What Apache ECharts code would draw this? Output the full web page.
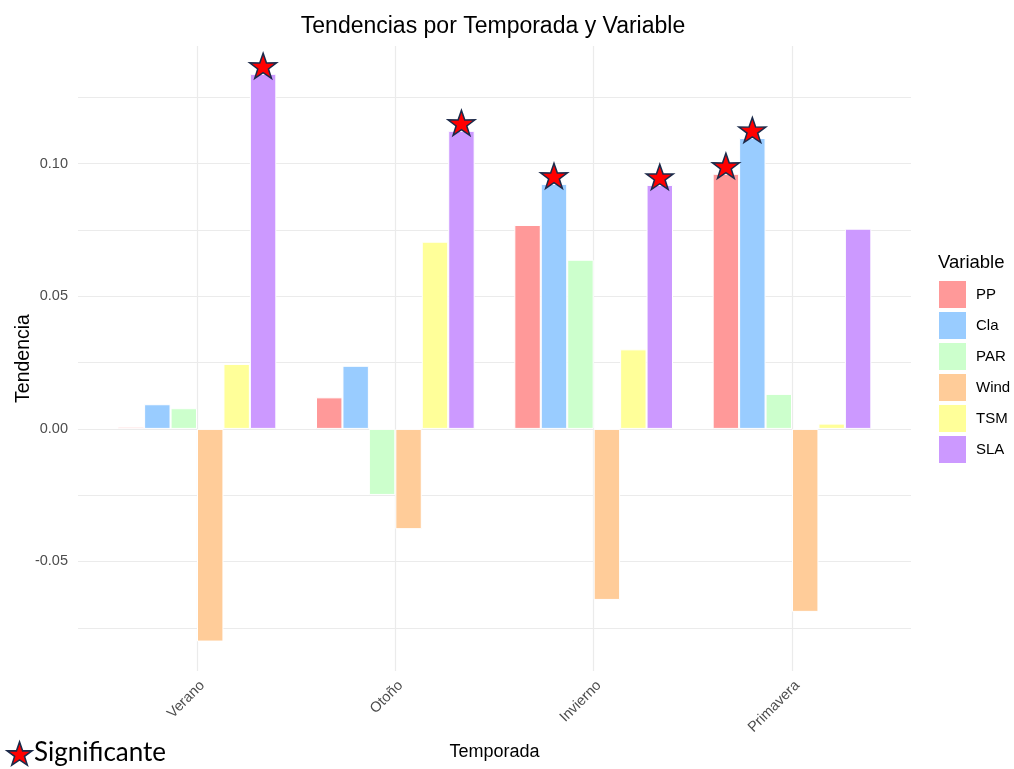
<!DOCTYPE html>
<html>
<head>
<meta charset="utf-8">
<script src="https://cdn.jsdelivr.net/npm/echarts@6/dist/echarts.min.js"></script>
<style>
html,body{margin:0;padding:0;background:#fff;}
#chart{width:1014px;height:769px;}
</style>
</head>
<body>
<div id="chart"></div>
<script>
const seasons = ['Verano', 'Otoño', 'Invierno', 'Primavera'];
const variables = ['PP', 'Cla', 'PAR', 'Wind', 'TSM', 'SLA'];
const colors = ['#FF9999', '#99CCFF', '#CCFFCC', '#FFCC99', '#FFFF99', '#CC99FF'];
const PP   = [0.0008, 0.0119, 0.0769, 0.0962];
const Cla  = [0.0093, 0.0238, 0.0924, 0.1097];
const PAR  = [0.0078, -0.0249, 0.0638, 0.0132];
const Wind = [-0.0802, -0.0378, -0.0645, -0.0690];
const TSM  = [0.0245, 0.0706, 0.0300, 0.0020];
const SLA  = [0.1339, 0.1124, 0.0920, 0.0755];
// significant: [season index, variable index]
const significant = [[0, 5], [1, 5], [2, 1], [2, 5], [3, 0], [3, 1]];
const yLabelTicks = [-0.05, 0, 0.05, 0.10];
const yGridTicks = [-0.075, -0.05, -0.025, 0, 0.025, 0.05, 0.075, 0.10, 0.125];

const seriesValues = [PP, Cla, PAR, Wind, TSM, SLA];
const dodge = 0.8;
const starPts = [[50,0],[61.8,35.1],[97.6,34.5],[68.8,56.9],[79.4,91.2],[50,70.5],[20.6,91.2],[31.2,56.9],[2.4,34.5],[38.2,35.1]];
const starPath = 'path://M' + starPts.map(p => p.join(',')).join(' L') + ' Z';
const FONT = 'Liberation Sans, Arial, sans-serif';

const barSeries = variables.map((name, k) => ({
  name: name,
  type: 'bar',
  data: seriesValues[k].map((v, i) => [i + 1, v]),
  barGap: '0%',
  barCategoryGap: '20%',
  itemStyle: { color: colors[k], borderColor: '#ffffff', borderWidth: 1 },
  emphasis: { disabled: true }
}));

const starData = significant.map(([i, k]) => [i + 1 + (k - 2.5) * dodge / 6, seriesValues[k][i]]);

const chart = echarts.init(document.getElementById('chart'), null, { renderer: 'canvas' });
chart.setOption({
  animation: false,
  textStyle: { fontFamily: FONT },
  title: [
    { text: 'Tendencias por Temporada y Variable', left: 488, textAlign: 'center', top: 10,
      textStyle: { fontSize: 23, fontWeight: 'normal', color: '#000', fontFamily: FONT } },
    { text: 'Variable', left: 938, top: 253, padding: 0,
      textStyle: { fontSize: 18.5, fontWeight: 'normal', color: '#000', fontFamily: FONT } }
  ],
  grid: { left: 78, right: 103, top: 46, bottom: 98, containLabel: false, outerBoundsMode: 'none' },
  legend: {
    data: variables,
    orient: 'vertical',
    left: 939, top: 281, padding: 0,
    itemWidth: 27, itemHeight: 27, itemGap: 4,
    icon: 'rect',
    selectedMode: false,
    itemStyle: { borderWidth: 0 },
    textStyle: { fontSize: 15, color: '#000', fontFamily: FONT, padding: [0, 0, 0, 5] }
  },
  xAxis: {
    type: 'value',
    min: 0.4, max: 4.6,
    name: 'Temporada', nameLocation: 'middle', nameGap: 72, nameMoveOverlap: false,
    nameTextStyle: { fontSize: 18, color: '#000', fontFamily: FONT },
    axisLine: { show: false },
    axisTick: { show: false, customValues: [1, 2, 3, 4] },
    axisLabel: {
      customValues: [1, 2, 3, 4],
      formatter: v => seasons[Math.round(v) - 1],
      rotate: 45, verticalAlign: 'top', color: '#4d4d4d', fontSize: 14.5, margin: 7, fontFamily: FONT
    },
    splitLine: { show: true, lineStyle: { color: '#ebebeb', width: 1.2 } }
  },
  yAxis: {
    type: 'value',
    min: -0.0913, max: 0.1444,
    name: 'Tendencia', nameLocation: 'middle', nameGap: 44, nameMoveOverlap: false,
    nameTextStyle: { fontSize: 19.5, color: '#000', fontFamily: FONT },
    axisLine: { show: false },
    axisTick: { show: false, customValues: yGridTicks },
    axisLabel: {
      customValues: yLabelTicks,
      formatter: v => v.toFixed(2),
      color: '#4d4d4d', fontSize: 14.5, margin: 10, fontFamily: FONT
    },
    splitLine: { show: true, lineStyle: { color: '#ebebeb', width: 1.2 } }
  },
  series: barSeries.concat([{
    name: 'Significante',
    type: 'scatter',
    data: starData,
    symbol: starPath,
    symbolSize: [27, 25],
    symbolOffset: [0, -8],
    z: 10,
    itemStyle: { color: '#ff0000', borderColor: '#1b2a4a', borderWidth: 1.5, opacity: 1 },
    emphasis: { disabled: true }
  }]),
  graphic: [
    { type: 'polygon', x: 6.4, y: 742, scaleX: 0.263, scaleY: 0.253,
      shape: { points: starPts },
      style: { fill: '#ff0000', stroke: '#1b2a4a', lineWidth: 6 } },
    { type: 'text', left: 34, top: 740,
      style: { text: 'Significante', fontSize: 26, fill: '#000', fontFamily: 'Lato, Carlito, sans-serif' } }
  ]
});
</script>
</body>
</html>
